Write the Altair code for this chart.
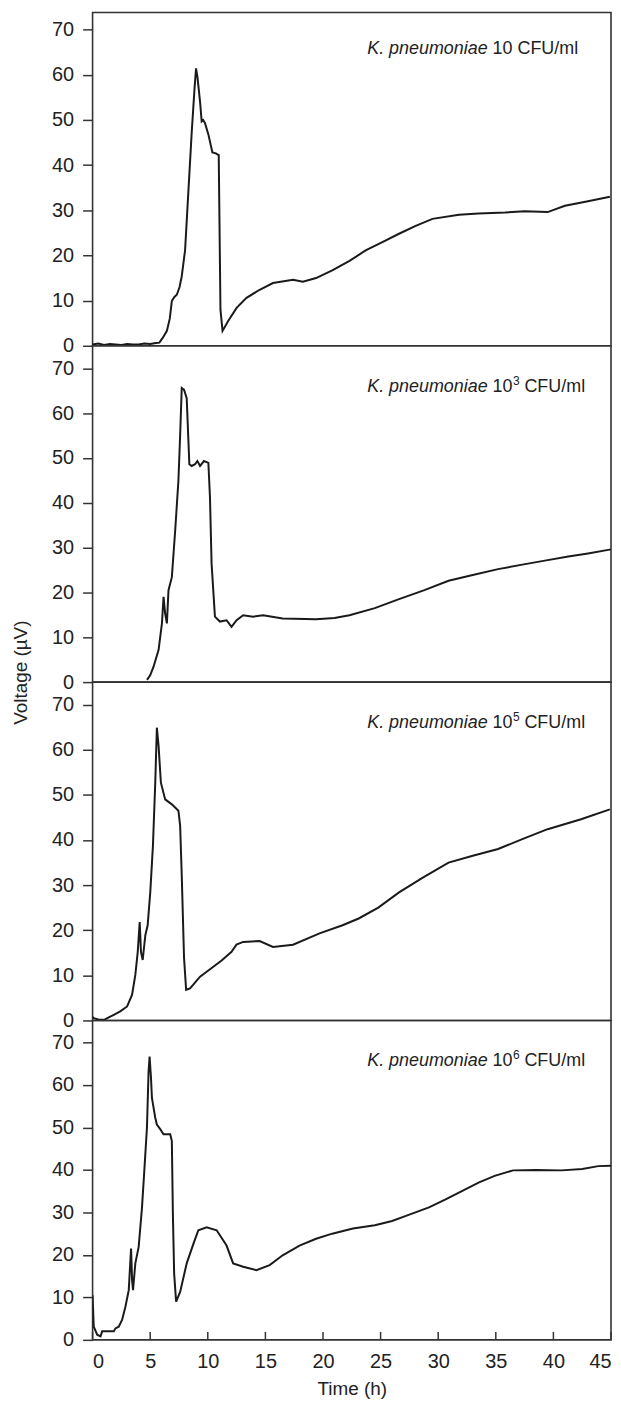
import altair as alt
import pandas as pd

# ---------------- data ----------------
t1 = [0, 0.5, 1, 1.5, 2, 2.5, 3, 3.5, 4, 4.5, 5, 5.5, 5.8, 6.1, 6.45, 6.7, 6.88, 7.1, 7.31, 7.55,
      7.74, 8.03, 8.32, 8.61, 8.85, 8.98, 9.1, 9.33, 9.47, 9.6, 9.76, 10.05, 10.4, 10.7, 10.95,
      11.1, 11.28, 11.77, 12.5, 13.36, 14.5, 15.66, 17.4, 18.25, 19.4, 20.8, 22.3, 23.7, 25.2,
      26.6, 28, 29.5, 31.8, 33.5, 35.8, 37.5, 39.5, 41, 43, 44.9]
v1 = [0.3, 0.5, 0.2, 0.4, 0.3, 0.2, 0.4, 0.3, 0.3, 0.5, 0.4, 0.6, 0.7, 1.8, 3.3, 6, 9.9, 10.8, 11.3, 13,
      15.4, 21.2, 34.4, 47.5, 57, 61.4, 59.6, 54, 49.7, 50, 49.3, 46.8, 42.8, 42.6, 42.2,
      8, 3.3, 5.5, 8.4, 10.6, 12.4, 13.9, 14.6, 14.2, 15, 16.7, 18.8, 21.1, 23,
      24.8, 26.5, 28.1, 29, 29.3, 29.5, 29.8, 29.6, 31, 32, 33]

t2 = [4.72, 5.0, 5.3, 5.73, 6.02, 6.16, 6.3, 6.45, 6.59, 6.88, 7.17, 7.45, 7.6, 7.74, 7.94, 8.17, 8.4,
      8.6, 8.9, 9.1, 9.33, 9.67, 10.05, 10.19, 10.33, 10.62, 11.05, 11.63, 12.06, 12.5, 13.07, 13.93,
      14.8, 16.5, 19.4, 21, 22.3, 24.5, 26.6, 28.8, 30.9, 33, 35.2, 37.3, 39.5, 41.3, 43, 45]
v2 = [0.5, 1.5, 3.5, 7.2, 13.1, 19, 15.3, 13.1, 20.5, 23.4, 33.8, 44.9, 55, 65.6, 65.2, 63.3, 48.6,
      48.2, 48.6, 49.3, 48.2, 49.3, 48.9, 41.2, 26.4, 14.6, 13.5, 13.8, 12.3, 13.8, 14.9, 14.6,
      14.9, 14.2, 14, 14.3, 14.9, 16.5, 18.5, 20.5, 22.6, 23.9, 25.2, 26.2, 27.2, 28, 28.7, 29.6]

t3 = [0, 0.1, 0.5, 1, 1.84, 2.4, 3, 3.43, 3.71, 3.92, 4.09, 4.2, 4.35, 4.58, 4.78, 5.01, 5.24, 5.44,
      5.58, 5.73, 5.93, 6.3, 6.88, 7.45, 7.6, 7.74, 7.94, 8.12, 8.46, 9.33, 10.48, 11.2, 12.06, 12.49,
      13.07, 14.5, 15.66, 17.4, 19.7, 21.7, 23.1, 24.8, 26.6, 28.7, 30.9, 33, 35.2, 37.3, 39.5, 42.4, 44.9]
v3 = [0.8, 0.5, 0.2, 0.15, 1.25, 2, 3.1, 5.7, 10.1, 15.2, 21.8, 15.2, 13.4, 18.9, 21.1, 28.5, 38.8, 52.7,
      64.9, 60.8, 52.7, 49, 47.9, 46.5, 43.2, 32.1, 13.8, 6.8, 7.1, 9.7, 11.9, 13.3, 15.2, 16.8,
      17.4, 17.6, 16.3, 16.8, 19.3, 21.1, 22.6, 25, 28.4, 31.7, 35, 36.5, 38, 40.2, 42.4, 44.6, 46.8]

t4 = [0, 0.1, 0.4, 0.69, 0.83, 1.84, 1.98, 2.27, 2.56, 2.85, 3.14, 3.34, 3.43, 3.51, 3.71, 4.0, 4.29,
      4.49, 4.72, 4.86, 4.95, 5.07, 5.15, 5.44, 5.58, 5.87, 6.16, 6.74, 6.88, 6.97, 7.08, 7.25, 7.6,
      8.17, 8.75, 9.18, 9.9, 10.77, 11.63, 12.2, 13.07, 14.22, 15.37, 16.5, 17.96, 19.4, 20.8, 22.6,
      24.5, 26, 27.2, 29.2, 30.6, 32.1, 33.5, 34.9, 36.5, 38.5, 40.7, 42.5, 43.9, 45]
v4 = [10.5, 3.1, 1.2, 0.8, 2, 2, 2.7, 3.1, 4.7, 7.8, 11.7, 21.5, 14, 11.7, 18, 21.9, 31.2,
      39.8, 50, 63.2, 66.7, 61.7, 57, 52.3, 50.7, 49.6, 48.4, 48.4, 46.8, 29.7, 15.6, 9, 11.3,
      18, 22.6, 25.8, 26.5, 25.8, 22.2, 18, 17.2, 16.4, 17.6, 19.9, 22.2, 23.8, 25, 26.2,
      27, 28, 29.2, 31.2, 33, 35.1, 37, 38.6, 39.9, 40, 39.9, 40.2, 40.9, 41]

species = "K. pneumoniae"
conc_base = "10"
conc_sup = ["", "3", "5", "6"]
unit = "CFU/ml"

y_ticks = [0, 10, 20, 30, 40, 50, 60, 70]
x_ticks = [0, 5, 10, 15, 20, 25, 30, 35, 40, 45]

FONT = "Liberation Sans"
INK = "#222222"
W = 521
heights = [335, 338, 340, 321]
ymaxes = [73.8, 75.0, 75.0, 75.2]
label_y = [42, 46, 46, 46]


def panel(i, t, v):
    h = heights[i]
    df = pd.DataFrame({"t": t, "v": v})
    is_bottom = i == 3
    if is_bottom:
        xaxis = alt.Axis(values=x_ticks, ticks=False, tickSize=0, domain=False, grid=False,
                         labelPadding=12, labelFontSize=20, labelFont=FONT, labelColor=INK,
                         title="Time (h)", titleFontSize=19, titleFont=FONT,
                         titleFontWeight="normal", titleColor=INK, titlePadding=8)
    else:
        xaxis = None
    yargs = dict(values=y_ticks, domain=False, grid=False, tickSize=10, tickWidth=1.5,
                 tickColor="#333333", labelPadding=9, labelFontSize=20, labelFont=FONT,
                 labelColor=INK)
    if i == 1:
        yaxis = alt.Axis(title="Voltage (µV)", titleFontSize=19, titleFont=FONT,
                         titleFontWeight="normal", titleColor=INK, titleAngle=270,
                         titleAlign="center", titleBaseline="top", titleX=-81, titleY=328,
                         **yargs)
    else:
        yaxis = alt.Axis(title=None, **yargs)

    line = alt.Chart(df).mark_line(color="#1a1a1a", strokeWidth=2, clip=True).encode(
        x=alt.X("t:Q", scale=alt.Scale(domain=[0, 45], nice=False, zero=False), axis=xaxis),
        y=alt.Y("v:Q", scale=alt.Scale(domain=[0, ymaxes[i]], nice=False), axis=yaxis),
    )

    lab = pd.DataFrame({"species": [species], "base": [conc_base],
                        "sup": [conc_sup[i]], "unit": [unit]})
    ly = label_y[i]
    common = dict(font=FONT, color=INK, align="left", baseline="alphabetic")
    x0 = 276
    t_sp = alt.Chart(lab).mark_text(fontSize=18, fontStyle="italic", **common).encode(
        x=alt.value(x0), y=alt.value(ly), text="species:N")
    t_base = alt.Chart(lab).mark_text(fontSize=18, **common).encode(
        x=alt.value(x0 + 126), y=alt.value(ly), text="base:N")
    layers = [line, t_sp, t_base]
    if conc_sup[i]:
        t_sup = alt.Chart(lab).mark_text(fontSize=12, **common).encode(
            x=alt.value(x0 + 146.5), y=alt.value(ly - 7), text="sup:N")
        layers.append(t_sup)
        ux = x0 + 158
    else:
        ux = x0 + 151
    t_unit = alt.Chart(lab).mark_text(fontSize=18, **common).encode(
        x=alt.value(ux), y=alt.value(ly), text="unit:N")
    layers.append(t_unit)

    if is_bottom:
        tk = pd.DataFrame({"t": x_ticks})
        ticks = alt.Chart(tk).mark_rule(color="#333333", strokeWidth=1.5).encode(
            x=alt.X("t:Q", scale=alt.Scale(domain=[0, 45], nice=False)),
            y=alt.value(h - 8), y2=alt.value(h))
        layers.append(ticks)

    return alt.layer(*layers).properties(width=W, height=h)


panels = [panel(0, t1, v1), panel(1, t2, v2), panel(2, t3, v3), panel(3, t4, v4)]

chart = alt.vconcat(*panels, spacing=0, bounds="flush").resolve_scale(
    x="independent", y="independent"
).properties(
    padding={"left": 3, "top": 0, "right": 0, "bottom": 0}
).configure_view(
    stroke="#333333", strokeWidth=1.6
).configure_concat(spacing=0)

chart.save("out.html", embed_options={"renderer": "svg", "actions": False})
